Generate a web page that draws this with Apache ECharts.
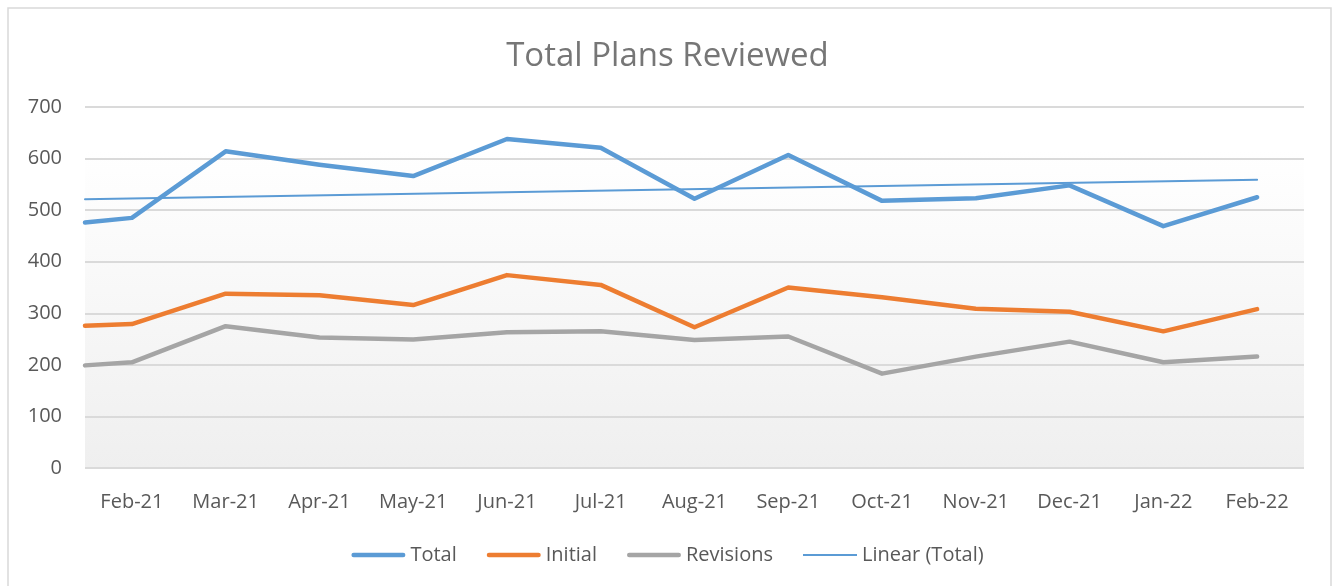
<!DOCTYPE html>
<html>
<head>
<meta charset="utf-8">
<title>Total Plans Reviewed</title>
<script src="https://cdn.jsdelivr.net/npm/echarts@6/dist/echarts.min.js"></script>
<style>
html, body { margin: 0; padding: 0; background: #fff; }
#chart { width: 1335px; height: 586px; }
</style>
</head>
<body>
<div id="chart"></div>
<script>
// month labels on the x axis
const months = ['Feb-21', 'Mar-21', 'Apr-21', 'May-21', 'Jun-21', 'Jul-21', 'Aug-21',
  'Sep-21', 'Oct-21', 'Nov-21', 'Dec-21', 'Jan-22', 'Feb-22']
// position of each reading against the month labels (first reading sits at the left edge)
const pointPos = [-0.5, 0, 1, 2, 3, 4, 5, 6, 7, 8, 9, 10, 11, 12]
const total = [476, 485, 614, 588, 566, 638, 621, 522, 607, 518, 523, 548, 469, 525]
const initial = [276, 279, 338, 335, 316, 374, 355, 273, 350, 331, 309, 303, 265, 308]
const revisions = [199, 205, 275, 253, 249, 263, 265, 248, 255, 183, 216, 245, 205, 216]
// linear trend of total, read at its two ends
const trendPos = [-0.5, 12]
const trendTotal = [521, 559]
const yTicks = [0, 100, 200, 300, 400, 500, 600, 700]

const font = 'Open Sans'
const textColor = '#595959'

// legend swatches: thick rounded bar for the series, thin bar for the trend
const thickIcon = 'path://M2.25,0H51.75A2.25,2.25 0 0 1 51.75,4.5H2.25A2.25,2.25 0 0 1 2.25,0Z'
const thinIcon = 'path://M0,0H54V1.8H0Z'

const pairs = (xs, ys) => ys.map((v, i) => [xs[i], v])

const lineSeries = (name, data, color, width) => ({
  name: name,
  type: 'line',
  data: data,
  symbol: 'none',
  silent: true,
  lineStyle: { color: color, width: width, cap: 'round', join: 'round' },
  itemStyle: { color: color }
})

const chart = echarts.init(document.getElementById('chart'))
const option = {
  animation: false,
  backgroundColor: '#fff',
  graphic: [{
    type: 'rect',
    shape: { x: 8, y: 8, width: 1323, height: 600 },
    style: { fill: 'none', stroke: '#d9d9d9', lineWidth: 1.5 },
    silent: true
  }],
  title: {
    text: 'Total Plans Reviewed',
    left: 'center',
    top: 35,
    textStyle: { fontFamily: font, fontSize: 33, fontWeight: 'normal', color: '#767676' }
  },
  grid: {
    left: 85,
    right: 31,
    top: 107,
    bottom: 118,
    outerBoundsMode: 'none',
    show: true,
    borderWidth: 0,
    backgroundColor: new echarts.graphic.LinearGradient(0, 0, 0, 1, [
      { offset: 0, color: '#ffffff' },
      { offset: 0.12, color: '#ffffff' },
      { offset: 1, color: '#efefef' }
    ])
  },
  xAxis: {
    type: 'value',
    min: -0.5,
    max: 12.5,
    axisLine: { show: false },
    axisTick: { show: false },
    splitLine: { show: false },
    axisLabel: {
      customValues: months.map((m, i) => i),
      formatter: v => months[v],
      margin: 24,
      fontFamily: font,
      fontSize: 20,
      color: textColor
    }
  },
  yAxis: {
    type: 'value',
    min: yTicks[0],
    max: yTicks[yTicks.length - 1],
    interval: 100,
    axisLine: { show: false },
    axisTick: { show: false },
    splitLine: { lineStyle: { color: '#dadada', width: 2 } },
    axisLabel: { margin: 23, fontFamily: font, fontSize: 20, color: textColor }
  },
  legend: {
    bottom: 16,
    left: 'center',
    itemWidth: 54,
    itemHeight: 14,
    itemGap: 30,
    symbolKeepAspect: true,
    selectedMode: false,
    textStyle: { fontFamily: font, fontSize: 20, color: textColor },
    data: [
      { name: 'Total', icon: thickIcon },
      { name: 'Initial', icon: thickIcon },
      { name: 'Revisions', icon: thickIcon },
      { name: 'Linear (Total)', icon: thinIcon }
    ]
  },
  series: [
    lineSeries('Total', pairs(pointPos, total), '#5b9bd5', 4.5),
    lineSeries('Initial', pairs(pointPos, initial), '#ed7d31', 4.5),
    lineSeries('Revisions', pairs(pointPos, revisions), '#a5a5a5', 4.5),
    lineSeries('Linear (Total)', pairs(trendPos, trendTotal), '#5b9bd5', 2)
  ]
}
chart.setOption(option)
</script>
</body>
</html>
